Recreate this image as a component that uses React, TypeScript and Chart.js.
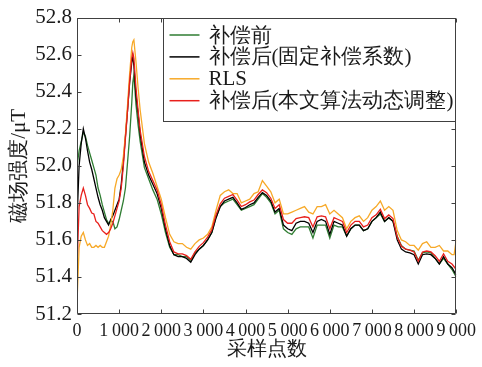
import React, { useEffect, useRef } from 'react';
import { Chart, registerables } from 'chart.js';

Chart.register(...registerables);

// sample index (x values)
const sampleIdx = [
  0, 50, 100, 150, 200, 250, 300, 350, 400, 450, 500, 550, 600, 650, 700, 750, 800, 850, 900, 950,
  1000, 1050, 1100, 1150, 1200, 1250, 1300, 1325, 1350, 1400, 1450, 1500,
  1600, 1700, 1800, 1900, 2000, 2100, 2200, 2300, 2400, 2500,
  2600, 2700, 2800, 2900, 3000, 3100, 3200, 3300, 3400, 3500,
  3600, 3700, 3800, 3900, 4000, 4100, 4200, 4300, 4400, 4500,
  4600, 4700, 4800, 4900, 5000, 5100, 5200, 5300, 5400, 5500,
  5600, 5700, 5800, 5900, 6000, 6100, 6200, 6300, 6400, 6500,
  6600, 6700, 6800, 6900, 7000, 7100, 7200, 7300, 7400, 7500,
  7600, 7700, 7800, 7900, 8000, 8100, 8200, 8300, 8400, 8500,
  8600, 8700, 8800, 8900, 8950, 9000,
];

// 补偿前
const beforeComp = [
  52.00, 52.08, 52.13, 52.18, 52.16, 52.11, 52.07, 52.03, 51.99, 51.95, 51.88, 51.84, 51.79, 51.75, 51.71, 51.69, 51.70, 51.70, 51.66, 51.67,
  51.71, 51.76, 51.81, 51.88, 52.02, 52.16, 52.34, 52.45, 52.49, 52.33, 52.22, 52.13,
  51.99, 51.93, 51.87, 51.82, 51.74, 51.64, 51.56, 51.52, 51.52, 51.51,
  51.51, 51.49, 51.53, 51.55, 51.57, 51.60, 51.64, 51.72, 51.78, 51.80,
  51.81, 51.82, 51.79, 51.76, 51.77, 51.78, 51.79, 51.82, 51.85, 51.83,
  51.80, 51.74, 51.76, 51.66, 51.64, 51.63, 51.66, 51.67, 51.67, 51.67,
  51.61, 51.68, 51.68, 51.68, 51.61, 51.68, 51.67, 51.67, 51.62, 51.66,
  51.68, 51.68, 51.65, 51.66, 51.70, 51.72, 51.74, 51.70, 51.72, 51.70,
  51.62, 51.57, 51.55, 51.545, 51.54, 51.49, 51.53, 51.535, 51.53, 51.50,
  51.47, 51.50, 51.47, 51.44, 51.42, 51.40,
];

// 补偿后(固定补偿系数)
const fixedComp = [
  51.70, 52.00, 52.12, 52.20, 52.15, 52.08, 52.02, 51.98, 51.93, 51.88, 51.83, 51.79, 51.76, 51.72, 51.70, 51.68, 51.71, 51.73, 51.76, 51.79,
  51.82, 51.90, 52.02, 52.16, 52.30, 52.45, 52.56, 52.59, 52.54, 52.38, 52.28, 52.17,
  52.02, 51.95, 51.90, 51.85, 51.77, 51.66, 51.57, 51.52, 51.51, 51.51,
  51.50, 51.48, 51.52, 51.55, 51.57, 51.60, 51.64, 51.72, 51.78, 51.81,
  51.82, 51.83, 51.80, 51.765, 51.775, 51.79, 51.80, 51.83, 51.855, 51.84,
  51.81, 51.75, 51.77, 51.68, 51.66, 51.65, 51.69, 51.70, 51.70, 51.69,
  51.64, 51.70, 51.71, 51.70, 51.63, 51.70, 51.69, 51.68, 51.62, 51.66,
  51.68, 51.68, 51.65, 51.66, 51.70, 51.72, 51.75, 51.70, 51.72, 51.70,
  51.60, 51.55, 51.535, 51.53, 51.52, 51.47, 51.52, 51.525, 51.52, 51.50,
  51.47, 51.51, 51.47, 51.45, 51.43, 51.41,
];

// RLS
const rls = [
  51.26, 51.56, 51.62, 51.64, 51.60, 51.57, 51.58, 51.56, 51.56, 51.57, 51.56, 51.57, 51.56, 51.56, 51.59, 51.62, 51.68, 51.76, 51.88, 51.93,
  51.95, 51.98, 52.05, 52.17, 52.33, 52.50, 52.64, 52.67, 52.68, 52.56, 52.42, 52.30,
  52.12, 52.02, 51.96, 51.89, 51.82, 51.72, 51.63, 51.59, 51.58, 51.58,
  51.56, 51.55, 51.58, 51.60, 51.61, 51.63, 51.67, 51.76, 51.84, 51.86,
  51.87, 51.85, 51.85, 51.80, 51.81, 51.82, 51.85, 51.86, 51.92, 51.89,
  51.86, 51.80, 51.82, 51.74, 51.74, 51.75, 51.76, 51.77, 51.78, 51.75,
  51.74, 51.78, 51.78, 51.79, 51.74, 51.76, 51.74, 51.72, 51.66, 51.70,
  51.72, 51.73, 51.70, 51.72, 51.76, 51.78, 51.81, 51.76, 51.78, 51.76,
  51.65, 51.60, 51.59, 51.57, 51.57, 51.545, 51.58, 51.59, 51.56, 51.56,
  51.57, 51.54, 51.54, 51.52, 51.52, 51.60,
];

// 补偿后(本文算法动态调整)
const dynamicComp = [
  51.45, 51.78, 51.84, 51.88, 51.84, 51.79, 51.77, 51.745, 51.74, 51.70, 51.69, 51.67, 51.65, 51.64, 51.63, 51.64, 51.66, 51.69, 51.73, 51.77,
  51.81, 51.88, 52.00, 52.15, 52.30, 52.46, 52.58, 52.61, 52.58, 52.42, 52.30, 52.19,
  52.05, 51.97, 51.92, 51.87, 51.79, 51.68, 51.59, 51.535, 51.525, 51.525,
  51.515, 51.495, 51.535, 51.565, 51.585, 51.615, 51.655, 51.735, 51.795, 51.825,
  51.835, 51.845, 51.815, 51.78, 51.79, 51.805, 51.815, 51.845, 51.87, 51.855,
  51.825, 51.77, 51.79, 51.71, 51.69, 51.69, 51.715, 51.72, 51.725, 51.72,
  51.67, 51.725, 51.73, 51.725, 51.66, 51.72, 51.71, 51.70, 51.64, 51.68,
  51.70, 51.70, 51.67, 51.68, 51.72, 51.735, 51.765, 51.715, 51.735, 51.715,
  51.615, 51.565, 51.55, 51.545, 51.535, 51.485, 51.535, 51.54, 51.535, 51.515,
  51.485, 51.525, 51.485, 51.47, 51.455, 51.44,
];

const xTickValues = [0, 1000, 2000, 3000, 4000, 5000, 6000, 7000, 8000, 9000];
const xTickLabels = ['0', '1\u2009000', '2\u2009000', '3\u2009000', '4\u2009000', '5\u2009000', '6\u2009000', '7\u2009000', '8\u2009000', '9\u2009000'];
const yTickValues = [51.2, 51.4, 51.6, 51.8, 52.0, 52.2, 52.4, 52.6, 52.8];
const yTickLabels = ['51.2', '51.4', '51.6', '51.8', '52.0', '52.2', '52.4', '52.6', '52.8'];

const seriesNames = ['补偿前', '补偿后(固定补偿系数)', 'RLS', '补偿后(本文算法动态调整)'];
const seriesColors = ['#2f7d32', '#000000', '#f7a928', '#e8201c'];
const xTitle = '采样点数';
const yTitle = '磁场强度/μT';

const SERIF = '"Liberation Serif", "Times New Roman", Times, serif';

export default function App() {
  const ref = useRef<HTMLCanvasElement>(null);

  useEffect(() => {
    if (!ref.current) return;
    const seriesData = [beforeComp, fixedComp, rls, dynamicComp];
    const drawOrder = [3, 2, 1, 0];

    const boxPlugin = {
      id: 'boxTicksLegend',
      afterDatasetsDraw(chart: any) {
        const { ctx, chartArea: a, scales } = chart;
        const xs = scales.x;
        const ys = scales.y;
        ctx.save();
        ctx.strokeStyle = '#404040';
        ctx.lineWidth = 1;
        const L = Math.round(a.left) + 0.5;
        const R = Math.round(a.right) - 0.5;
        const T = Math.round(a.top) + 0.5;
        const B = Math.round(a.bottom) - 0.5;
        ctx.beginPath();
        ctx.rect(L, T, R - L, B - T);
        const tl = 4;
        xTickValues.forEach((v) => {
          const px = Math.round(xs.getPixelForValue(v)) + 0.5;
          ctx.moveTo(px, B);
          ctx.lineTo(px, B - tl);
          ctx.moveTo(px, T);
          ctx.lineTo(px, T + tl);
        });
        yTickValues.forEach((v) => {
          const py = Math.round(ys.getPixelForValue(v)) + 0.5;
          ctx.moveTo(L, py);
          ctx.lineTo(L + tl, py);
          ctx.moveTo(R, py);
          ctx.lineTo(R - tl, py);
        });
        ctx.stroke();

        // legend
        const boxW = 292;
        const boxH = 103;
        const bl = R - boxW;
        const bt = T;
        ctx.fillStyle = '#ffffff';
        ctx.fillRect(bl, bt, boxW, boxH);
        ctx.strokeStyle = '#404040';
        ctx.strokeRect(bl, bt, boxW, boxH);
        ctx.font = `21px ${SERIF}`;
        ctx.textBaseline = 'middle';
        ctx.textAlign = 'left';
        seriesNames.forEach((name, i) => {
          const y = bt + 16.5 + i * 21.9;
          ctx.strokeStyle = seriesColors[i];
          ctx.lineWidth = 1.5;
          ctx.beginPath();
          ctx.moveTo(bl + 6, y);
          ctx.lineTo(bl + 36, y);
          ctx.stroke();
          ctx.fillStyle = '#1a1a1a';
          ctx.fillText(name, bl + 45, y + 1);
        });
        ctx.restore();
      },
    };

    const chart = new Chart(ref.current, {
      type: 'line',
      data: {
        datasets: seriesNames.map((name, i) => ({
          label: name,
          data: sampleIdx.map((x, j) => ({ x, y: seriesData[i][j] })),
          borderColor: seriesColors[i],
          backgroundColor: seriesColors[i],
          borderWidth: 1.3,
          pointRadius: 0,
          tension: 0,
          fill: false,
          order: drawOrder[i],
        })),
      },
      options: {
        responsive: false,
        animation: false,
        devicePixelRatio: 1,
        layout: { padding: { left: 0, right: 22, top: 15, bottom: 0 } },
        plugins: {
          legend: { display: false },
          tooltip: { enabled: false },
        },
        scales: {
          x: {
            type: 'linear',
            min: 0,
            max: 9000,
            grid: { display: false, drawTicks: false },
            border: { display: false },
            afterBuildTicks: (s: any) => {
              s.ticks = xTickValues.map((v) => ({ value: v }));
            },
            afterFit: (s: any) => {
              s.height = 53;
            },
            ticks: {
              color: '#1a1a1a',
              padding: 6,
              maxRotation: 0,
              autoSkip: false,
              font: { family: SERIF, size: 18 },
              callback: (v: any) => {
                const k = xTickValues.indexOf(Number(v));
                return k >= 0 ? xTickLabels[k] : '';
              },
            },
            title: {
              display: true,
              text: xTitle,
              color: '#1a1a1a',
              font: { family: SERIF, size: 20 },
              padding: { top: 5, bottom: 5 },
            },
          },
          y: {
            type: 'linear',
            min: 51.2,
            max: 52.8,
            grid: { display: false, drawTicks: false },
            border: { display: false },
            afterBuildTicks: (s: any) => {
              s.ticks = yTickValues.map((v) => ({ value: v }));
            },
            afterFit: (s: any) => {
              s.width = 77;
            },
            ticks: {
              color: '#1a1a1a',
              padding: 5,
              autoSkip: false,
              font: { family: SERIF, size: 21 },
              callback: (v: any) => {
                const k = yTickValues.findIndex((t) => Math.abs(t - Number(v)) < 1e-6);
                return k >= 0 ? yTickLabels[k] : '';
              },
            },
            title: {
              display: true,
              text: yTitle,
              color: '#1a1a1a',
              font: { family: SERIF, size: 21 },
              padding: { top: 7, bottom: 0 },
            },
          },
        },
      },
      plugins: [boxPlugin],
    });
    return () => chart.destroy();
  }, []);

  return (
    <div style={{ position: 'absolute', left: 0, top: 0, width: 482, height: 367, background: '#fff' }}>
      <canvas ref={ref} width={482} height={367} style={{ width: 482, height: 367 }} />
    </div>
  );
}
